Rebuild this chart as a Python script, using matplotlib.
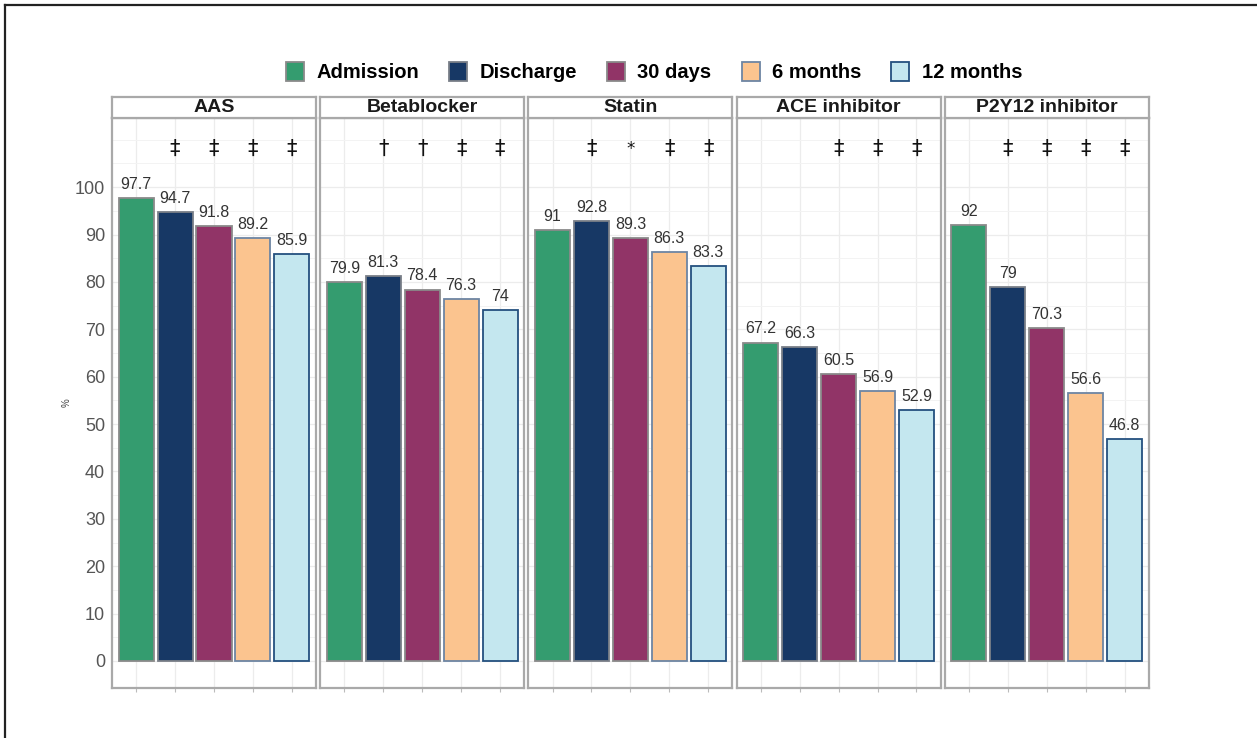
import matplotlib.pyplot as plt
from matplotlib.patches import Patch
from matplotlib.lines import Line2D

# data
drugs = ["AAS", "Betablocker", "Statin", "ACE inhibitor", "P2Y12 inhibitor"]
times = ["Admission", "Discharge", "30 days", "6 months", "12 months"]
aas = [97.7, 94.7, 91.8, 89.2, 85.9]
betablocker = [79.9, 81.3, 78.4, 76.3, 74]
statin = [91, 92.8, 89.3, 86.3, 83.3]
ace = [67.2, 66.3, 60.5, 56.9, 52.9]
p2y12 = [92, 79, 70.3, 56.6, 46.8]
values = [aas, betablocker, statin, ace, p2y12]
marks = [
    ["", "‡", "‡", "‡", "‡"],
    ["", "†", "†", "‡", "‡"],
    ["", "‡", "*", "‡", "‡"],
    ["", "", "‡", "‡", "‡"],
    ["", "‡", "‡", "‡", "‡"],
]
y_ticks = [0, 10, 20, 30, 40, 50, 60, 70, 80, 90, 100]

plt.rcParams["font.family"] = ["Liberation Sans", "DejaVu Sans"]

fills = ["#349c6f", "#173865", "#913467", "#fbc48f", "#c4e7ef"]
edges = ["#8a8a8a", "#7a7f88", "#8a8a8a", "#6d85a3", "#24507f"]

W, H = 1257, 738
fig = plt.figure(figsize=(W / 100, H / 100), dpi=100)

# outer frame (top and left edges only, like the cropped source)
fig.add_artist(Line2D([5 / W, 5 / W], [0, 1 - 5 / H], color="#222222", lw=1.6))
fig.add_artist(Line2D([5 / W, 1], [1 - 5 / H, 1 - 5 / H], color="#222222", lw=1.6))

x0, pw, gap = 112, 204, 4.2
bottom_px, top_px, strip_px = 688, 118, 21
pos = [1, 2, 3, 4, 5]

for i, drug in enumerate(drugs):
    left = x0 + i * (pw + gap)
    ax = fig.add_axes([left / W, 1 - bottom_px / H, pw / W, (bottom_px - top_px) / H])
    ax.set_xlim(0.38, 5.62)
    ax.set_ylim(-5.7, 114.6)
    ax.set_xticks(pos)
    ax.set_xticklabels([])
    ax.set_yticks(y_ticks)
    ax.set_yticks([5, 15, 25, 35, 45, 55, 65, 75, 85, 95, 105, 110], minor=True)
    ax.tick_params(axis="x", length=3, color="#bbbbbb", width=0.8)
    ax.tick_params(axis="y", which="both", length=0, pad=5)
    if i == 0:
        ax.set_yticklabels([str(t) for t in y_ticks], color="#555555", fontsize=13)
        ax.set_ylabel("%", fontsize=7, color="#444444", labelpad=2)
    else:
        ax.set_yticklabels([])
    ax.grid(True, which="major", color="#ececec", lw=0.9)
    ax.grid(True, which="minor", axis="y", color="#f3f3f3", lw=0.7)
    ax.set_axisbelow(True)
    for sp in ax.spines.values():
        sp.set_color("#a9a9a9")
        sp.set_linewidth(1.6)

    ax.bar(pos, values[i], width=0.9, color=fills, edgecolor=edges, linewidth=1.3)
    for p, v, m in zip(pos, values[i], marks[i]):
        ax.text(p, v + 1.3, f"{v:g}", ha="center", va="bottom", fontsize=11.5, color="#333333")
        if m:
            ax.text(p, 108, m, ha="center", va="center", fontsize=15 if m != "*" else 12,
                    color="#111111", family=["DejaVu Sans"])

    # facet strip
    sax = fig.add_axes([left / W, 1 - top_px / H, pw / W, strip_px / H])
    sax.set_xticks([])
    sax.set_yticks([])
    sax.set_facecolor("white")
    for sp in sax.spines.values():
        sp.set_color("#a9a9a9")
        sp.set_linewidth(1.6)
    sax.text(0.5, 0.5, drug, ha="center", va="center", fontsize=14, fontweight="bold",
             color="#1a1a1a", transform=sax.transAxes)

handles = [Patch(facecolor=f, edgecolor=e, linewidth=1.3) for f, e in zip(fills, edges)]
fig.legend(handles, times, loc="center", bbox_to_anchor=(654 / W, 1 - 72 / H), ncol=5,
           frameon=False, prop={"weight": "bold", "size": 14.5},
           handlelength=0.9, handleheight=1.1, handletextpad=0.6, columnspacing=1.5)

fig.savefig("out.png", dpi=100)
